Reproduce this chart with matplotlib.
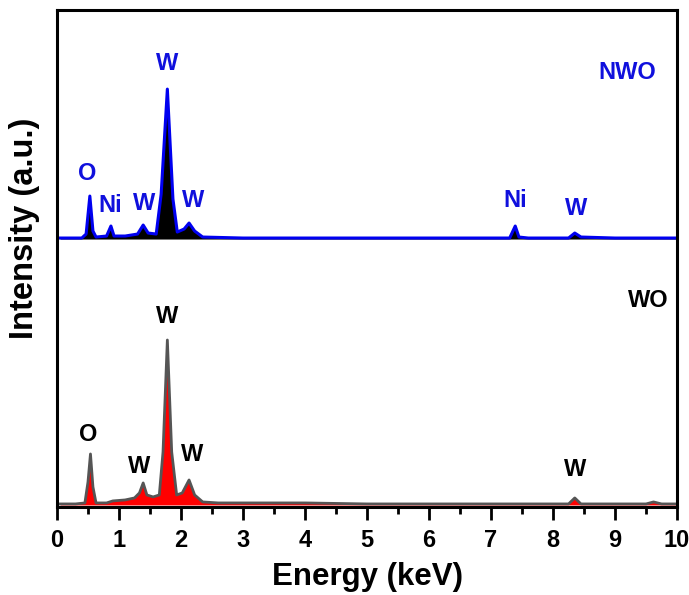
import matplotlib
matplotlib.use("Agg")
import matplotlib.pyplot as plt

plt.rcParams['font.family'] = ['Liberation Sans', 'DejaVu Sans']
plt.rcParams['font.weight'] = 'bold'

# EDS spectra, points (energy in keV, intensity in a.u.)
nwo_energy = [0.05, 0.40, 0.47, 0.53, 0.58, 0.63, 0.80, 0.87, 0.92, 1.10, 1.30, 1.39, 1.47,
              1.60, 1.68, 1.78, 1.87, 1.94, 2.05, 2.13, 2.22, 2.35, 3.0, 4.0, 5.0, 6.0,
              7.30, 7.39, 7.45, 7.60, 8.25, 8.35, 8.45, 9.0, 10.0]
nwo_counts = [1, 1, 5, 43, 8, 2, 3, 13, 3, 3, 5, 14, 6,
              5, 45, 150, 40, 7, 10, 16, 8, 2, 1, 1, 1, 1,
              1, 13, 2, 1, 1, 6, 2, 1, 1]

wo_energy = [0.05, 0.30, 0.45, 0.50, 0.54, 0.58, 0.63, 0.80, 0.90, 1.10, 1.25, 1.33, 1.39,
             1.45, 1.55, 1.65, 1.71, 1.78, 1.85, 1.93, 2.02, 2.13, 2.22, 2.35, 2.60, 3.0,
             4.0, 5.0, 6.0, 7.0, 8.25, 8.35, 8.45, 9.50, 9.62, 9.75, 10.0]
wo_counts = [3, 3, 4, 25, 53, 20, 4, 4, 6, 7, 9, 14, 24,
             12, 10, 12, 55, 167, 55, 12, 14, 27, 12, 5, 4, 4,
             4, 3, 3, 3, 3, 9, 3, 3, 5, 3, 3]

nwo_offset = 268

# peak labels: (text, energy, height)
nwo_labels = [("O", 0.48, 334), ("Ni", 0.85, 302), ("W", 1.40, 304), ("W", 1.78, 444),
              ("W", 2.20, 307), ("Ni", 7.39, 307), ("W", 8.37, 299), ("NWO", 9.19, 435)]
wo_labels = [("O", 0.51, 72), ("W", 1.32, 40), ("W", 1.78, 191), ("W", 2.18, 52),
             ("W", 8.36, 37), ("WO", 9.53, 207)]

fig = plt.figure(figsize=(6.89, 5.95), dpi=100)
ax = fig.add_axes([0.0827, 0.148, 0.9, 0.835])

nwo_y = [c + nwo_offset for c in nwo_counts]
ax.fill_between(nwo_energy, nwo_offset, nwo_y, color='black', lw=0)
ax.plot(nwo_energy, nwo_y, color='#0000f0', lw=2.2)

ax.fill_between(wo_energy, 2, wo_counts, color='#ff0000', lw=0)
ax.plot(wo_energy, wo_counts, color='#555555', lw=2)

for txt, x, y in nwo_labels:
    ax.text(x, y, txt, color='#1010dd', fontsize=17, fontweight='bold', ha='center', va='center')
for txt, x, y in wo_labels:
    ax.text(x, y, txt, color='black', fontsize=17, fontweight='bold', ha='center', va='center')

ax.set_xlim(0, 10)
ax.set_ylim(0, 497)
ax.set_xticks(range(0, 11))
ax.set_xticks([i + 0.5 for i in range(10)], minor=True)
ax.set_yticks([])
ax.tick_params(axis='x', which='major', length=9, width=2, labelsize=17, pad=7, direction='out')
ax.tick_params(axis='x', which='minor', length=5, width=2, direction='out')
for lbl in ax.get_xticklabels():
    lbl.set_fontweight('bold')
for s in ax.spines.values():
    s.set_linewidth(2.2)

ax.set_xlabel('Energy (keV)', fontsize=22.5, fontweight='bold', labelpad=7)
ax.set_ylabel('Intensity (a.u.)', fontsize=23.5, fontweight='bold')
ax.yaxis.set_label_coords(-0.027, 0.56)

fig.savefig('out.png', dpi=100)
